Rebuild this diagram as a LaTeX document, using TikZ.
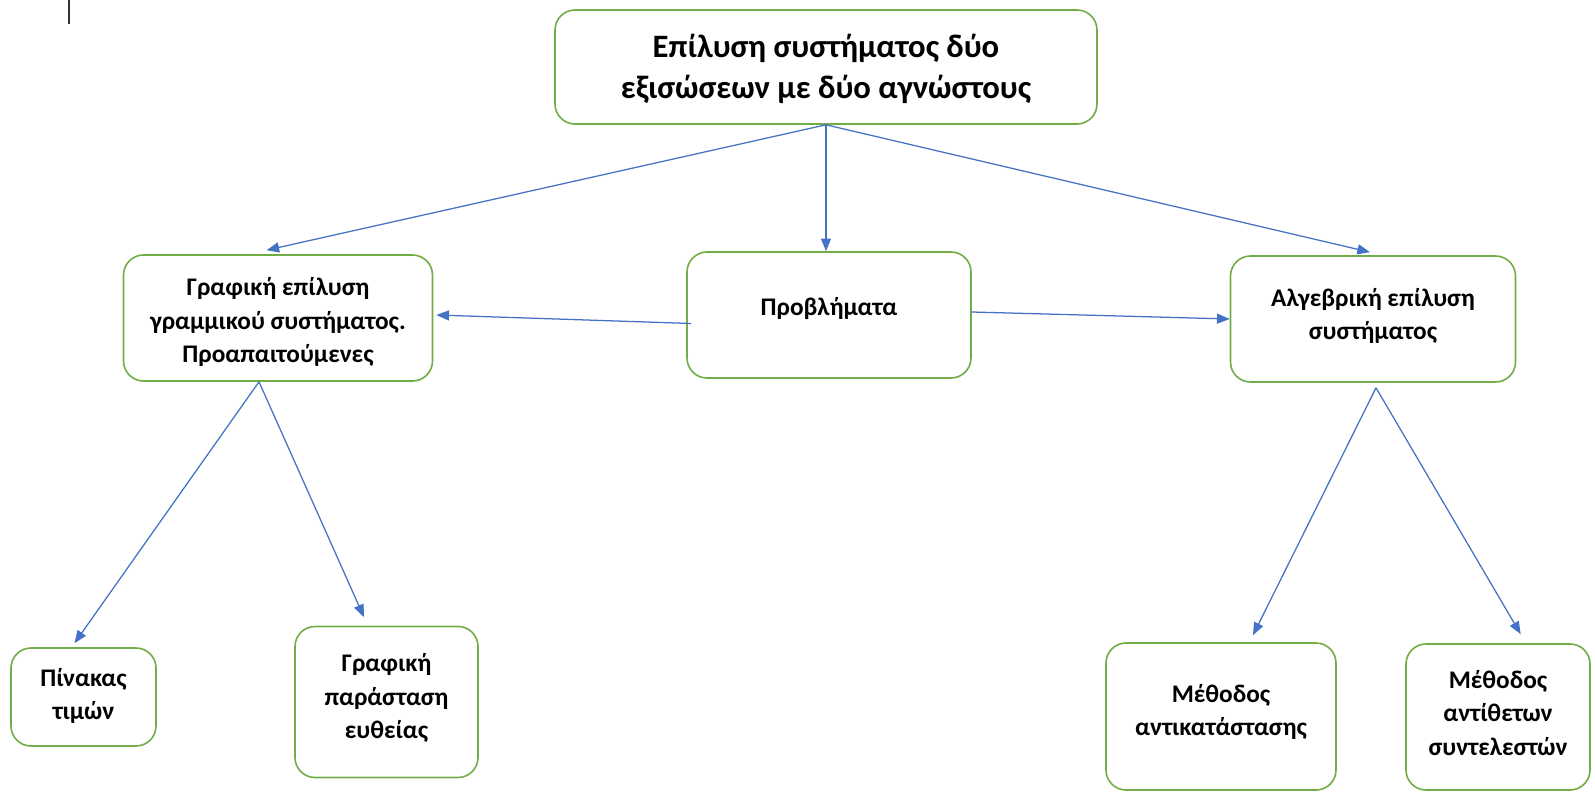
\documentclass[tikz,border=0pt]{standalone}
\usepackage{fontspec}
\setmainfont{Carlito}
\usetikzlibrary{arrows.meta,calc}
\definecolor{boxgreen}{HTML}{70AD47}
\definecolor{arrblue}{HTML}{4472C4}
\begin{document}
\begin{tikzpicture}[x={(0.75pt,0)},y={(0,-0.75pt)},
  box/.style={draw=boxgreen,line width=1.2pt,rounded corners=15pt,inner sep=0pt},
  lbl/.style={align=center,font=\bfseries\fontsize{19}{25}\selectfont,inner sep=0pt},
  ttl/.style={align=center,font=\bfseries\fontsize{24.5}{31}\selectfont,inner sep=0pt},
  arr/.style={draw=arrblue,line width=0.95pt,-{Triangle[length=9.5pt,width=7.5pt]}}]
\useasboundingbox (0,0) rectangle (1595,792);
% top-left mark
\draw[draw=black!80,line width=1.1pt] (69,0) coordinate (mk1) -- (69,24) coordinate (mk2);
% boxes
\node[box,minimum width=542*0.75pt,minimum height=114*0.75pt] (t) at (826,67) {};
\node[ttl] at (826,69) {Επίλυση συστήματος δύο\\εξισώσεων με δύο αγνώστους};
\node[box,minimum width=309*0.75pt,minimum height=126*0.75pt] (l) at (278,318) {};
\node[lbl] at (278,322) {Γραφική επίλυση\\γραμμικού συστήματος.\\Προαπαιτούμενες};
\node[box,minimum width=284*0.75pt,minimum height=126*0.75pt] (m) at (829,315) {};
\node[lbl] at (829,308) {Προβλήματα};
\node[box,minimum width=285*0.75pt,minimum height=126*0.75pt] (r) at (1373,319) {};
\node[lbl] at (1373,316) {Αλγεβρική επίλυση\\συστήματος};
\node[box,minimum width=145*0.75pt,minimum height=98*0.75pt] (p) at (83.5,697) {};
\node[lbl] at (83.5,696) {Πίνακας\\τιμών};
\node[box,minimum width=183*0.75pt,minimum height=151*0.75pt] (g) at (386.5,702) {};
\node[lbl] at (386.5,698) {Γραφική\\παράσταση\\ευθείας};
\node[box,minimum width=230*0.75pt,minimum height=147*0.75pt] (a) at (1221,716.5) {};
\node[lbl] at (1221,712) {Μέθοδος\\αντικατάστασης};
\node[box,minimum width=184*0.75pt,minimum height=146*0.75pt] (b) at (1498,717) {};
\node[lbl] at (1498,713) {Μέθοδος\\αντίθετων\\συντελεστών};
% connectors
\draw[arr] (t.south) -- ($(l.north)+(-11.5,-4)$);
\draw[arr] (t.south) -- (t.south |- m.north);
\draw[arr] (t.south) -- ($(r.north)+(-3,-3)$);
\draw[arr] ($(m.west)+(5,8.5)$) -- ($(l.east)+(3,-3)$);
\draw[arr] ($(m.east)+(0,-3)$) -- (r.west);
\draw[arr] ($(l.south)+(-19,0)$) -- ($(p.north)+(-9,-4)$);
\draw[arr] ($(l.south)+(-19,0)$) -- ($(g.north)+(-22.5,-8.5)$);
\draw[arr] ($(r.south)+(3,5)$) -- ($(a.north)+(32,-7)$);
\draw[arr] ($(r.south)+(3,5)$) -- ($(b.north)+(22.7,-9)$);
\end{tikzpicture}
\end{document}
